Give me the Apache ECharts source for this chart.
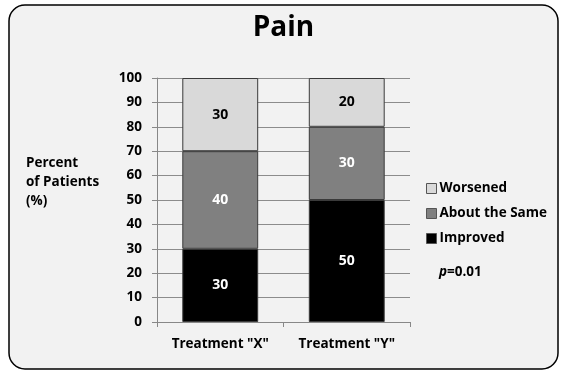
<!DOCTYPE html>
<html>
<head>
<meta charset="utf-8">
<script src="https://cdn.jsdelivr.net/npm/echarts@6/dist/echarts.min.js"></script>
<style>
  html, body { margin: 0; padding: 0; background: #ffffff; }
  #chart { width: 567px; height: 374px; }
</style>
</head>
<body>
<div id="chart"></div>
<script>
// Pain outcome by treatment, stacked percentages
const categories = ['Treatment "X"', 'Treatment "Y"'];
const improved = [30, 50];
const aboutSame = [40, 30];
const worsened = [30, 20];
const yTicks = [0, 10, 20, 30, 40, 50, 60, 70, 80, 90, 100];
const pValue = '0.01';

const FONT = '"Open Sans", sans-serif';
const FS = 13.5;
const chart = echarts.init(document.getElementById('chart'), null, { renderer: 'canvas' });

function seg(name, data, color, labelColor) {
  return {
    name: name,
    type: 'bar',
    stack: 'total',
    data: data,
    barWidth: '60%',
    itemStyle: { color: color, borderColor: '#3a3a3a', borderWidth: 1 },
    label: {
      show: true,
      position: 'inside',
      color: labelColor,
      fontFamily: FONT,
      fontWeight: 'bold',
      fontSize: 14
    },
    emphasis: { disabled: true }
  };
}

chart.setOption({
  backgroundColor: 'transparent',
  animation: false,
  graphic: [
    {
      type: 'rect',
      z: -10,
      shape: { x: 9, y: 5, width: 549, height: 364, r: 16 },
      style: { fill: '#f2f2f2', stroke: '#000000', lineWidth: 1.5 }
    },
    {
      type: 'text',
      left: 26, top: 154,
      style: {
        text: 'Percent\nof Patients\n(%)',
        fontFamily: FONT, fontWeight: 'bold', fontSize: FS,
        lineHeight: 19, fill: '#000000'
      }
    },
    {
      type: 'text',
      left: 439, top: 265,
      style: {
        text: '{i|p}{n|=' + pValue + '}',
        rich: {
          i: { fontFamily: FONT, fontWeight: 'bold', fontStyle: 'italic', fontSize: FS, fill: '#000' },
          n: { fontFamily: FONT, fontWeight: 'bold', fontSize: FS, fill: '#000' }
        }
      }
    }
  ],
  title: {
    text: 'Pain',
    left: 'center',
    top: 9,
    textStyle: { fontFamily: FONT, fontWeight: 'bold', fontSize: 28, color: '#000' }
  },
  legend: {
    orient: 'vertical',
    left: 421,
    top: 175,
    itemWidth: 10,
    itemHeight: 10,
    itemGap: 8,
    icon: 'rect',
    data: ['Worsened', 'About the Same', 'Improved'],
    textStyle: { fontFamily: FONT, fontWeight: 'bold', fontSize: FS, lineHeight: 17, color: '#000', padding: [0, 0, 0, -2] },
    itemStyle: { borderColor: '#555', borderWidth: 1 },
    selectedMode: false
  },
  grid: { left: 157, right: 157, top: 78, bottom: 52, containLabel: false },
  xAxis: {
    type: 'category',
    data: categories,
    axisLine: { lineStyle: { color: '#888', width: 1 } },
    axisTick: { show: true, alignWithLabel: false, length: 5, lineStyle: { color: '#888' } },
    axisLabel: { fontFamily: FONT, fontWeight: 'bold', fontSize: FS, color: '#000', margin: 15 }
  },
  yAxis: {
    type: 'value',
    min: 0, max: 100, interval: 10,
    axisLine: { show: true, lineStyle: { color: '#888', width: 1 } },
    axisTick: { show: true, length: 5, lineStyle: { color: '#888' } },
    splitLine: { lineStyle: { color: '#8c8c8c', width: 1 } },
    axisLabel: {
      fontFamily: FONT, fontWeight: 'bold', fontSize: FS, color: '#000', margin: 15,
      formatter: function (v) { return yTicks.indexOf(v) >= 0 ? String(v) : ''; }
    }
  },
  series: [
    seg('Improved', improved, '#000000', '#ffffff'),
    seg('About the Same', aboutSame, '#808080', '#ffffff'),
    seg('Worsened', worsened, '#d9d9d9', '#000000')
  ]
});
</script>
</body>
</html>
